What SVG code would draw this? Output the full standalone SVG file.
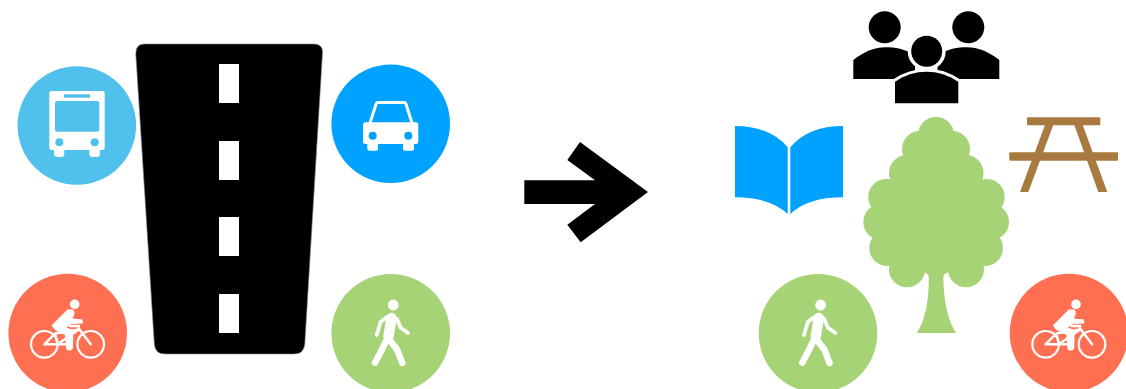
<svg xmlns="http://www.w3.org/2000/svg" xmlns:xlink="http://www.w3.org/1999/xlink" width="1126" height="389" viewBox="0 0 1126 389">
<style>
.bus{fill:#4fc1ec}.car{fill:#00a2ff}.bike{fill:#ff7052}.green{fill:#a5d376}.brown{fill:#a97a40}
.w{fill:#fff}.ln{fill:none;stroke:#fff;stroke-linecap:round;stroke-linejoin:round}
</style>
<defs>
<g id="walker-icon">
<circle class="w" cx="393.300" cy="305" r="5.400"/>
<path class="ln" stroke-width="10.500" d="M391.500 318L388.500 336"/>
<path class="ln" stroke-width="3.800" d="M387 317L380.500 322L376.700 335M397 319L400.500 327.500L408 333"/>
<path class="ln" stroke-width="6.400" d="M386.500 340L381.700 350L375 362.700M389 339L397.300 350L402.300 363"/>
</g>
<g id="bike-icon">
<circle class="w" cx="74.700" cy="304.300" r="4.800"/>
<circle class="ln" stroke-width="2.200" cx="44.300" cy="344.300" r="13.300"/>
<circle class="ln" stroke-width="2.200" cx="90.700" cy="344.300" r="13.300"/>
<path class="w" d="M67.500 309.500L73 309.500Q75 311 74.500 314L72.500 318.500L82.500 319.500L83 323.500L71 324L66.500 327.500L73.300 330L73 347Q73 350.500 69 350.500Q66 350.500 66 347L65 335L55 330L51.500 325.500Z"/>
<path class="ln" stroke-width="2.400" d="M44.300 344.300L55 333.500L57.500 344.300ZM55 333.500L79 329.500L57.500 344.300H68M78.500 328L90.700 344.300M70 326H79"/>
</g>
</defs>
<g id="connectors">
<polygon id="arrow" points="524.300,180.300 595,180.300 567.300,160 580,142 648,192 580.700,242.300 567.300,224.700 595,204 524.300,204" fill="#000"/>
</g>
<g id="road">
<path d="M144.500 44H314Q323 44 322.500 53L304.800 344Q304 354 294 354H165Q155 354 154.300 344L135.800 54Q135.500 44 144.500 44Z" fill="#000" stroke="#888" stroke-width="0.600"/>
<rect class="w" x="219" y="64" width="20" height="39"/>
<rect class="w" x="219" y="141" width="20" height="39"/>
<rect class="w" x="219" y="217" width="20" height="39"/>
<rect class="w" x="219" y="294" width="20" height="39"/>
</g>
<g id="bus">
<circle class="bus" cx="76.800" cy="125.500" r="59.300"/>
<rect class="w" x="49.300" y="91" width="55.400" height="59" rx="2"/>
<rect class="w" x="54" y="145" width="10.300" height="12" rx="3.500"/>
<rect class="w" x="89.300" y="145" width="10.700" height="12" rx="3.500"/>
<rect class="bus" x="55" y="101" width="44.300" height="30.700" rx="2.500"/>
<rect class="bus" x="64" y="94.300" width="26" height="3.400"/>
<circle class="bus" cx="59.300" cy="142.300" r="4"/>
<circle class="bus" cx="94.700" cy="142.300" r="4"/>
</g>
<g id="car">
<circle class="car" cx="390.700" cy="123.800" r="59.300"/>
<path d="M370 123L376.300 103.500Q376.700 102.600 378 102.600H404Q405.300 102.600 405.800 103.500L412 123" fill="#00a2ff" stroke="#fff" stroke-width="3" stroke-linejoin="round"/>
<rect class="w" x="363" y="122.300" width="55.300" height="21.700" rx="2.500"/>
<rect class="w" x="367.300" y="140" width="10.700" height="10.700" rx="2.500"/>
<rect class="w" x="403" y="140" width="11" height="10.700" rx="2.500"/>
<circle class="car" cx="372.700" cy="135.700" r="4"/>
<circle class="car" cx="408.300" cy="135.700" r="4"/>
</g>
<g id="bike-left">
<circle class="bike" cx="67.700" cy="333" r="59.300"/>
<use href="#bike-icon"/>
</g>
<g id="walker-left">
<circle class="green" cx="390.700" cy="333.300" r="59.300"/>
<use href="#walker-icon"/>
</g>
<g id="people">
<circle cx="884.700" cy="27.300" r="16"/>
<circle cx="968.300" cy="27.300" r="16"/>
<path d="M853.300 79V60C865 51 875 47.300 885 47.300C895 47.300 905 49 915 55V79Z"/>
<path d="M999.300 79V60C987.500 51 977.500 47.300 967.500 47.300C957.500 47.300 947.500 49 937.500 55V79Z"/>
<path d="M895 103.300V81.700C905 75 915 71.700 926.700 71.700C938 71.700 948 75 958.300 81.700V103.300Z" stroke="#fff" stroke-width="6" paint-order="stroke"/>
<circle cx="926.700" cy="51.300" r="15.500" stroke="#fff" stroke-width="7" paint-order="stroke"/>
</g>
<g id="book">
<path class="car" d="M735 126Q770 126 787.700 147.300V214Q770 197.300 735 197.300Z"/>
<path class="car" d="M843 126Q808 126 790.300 147.300V214Q808 197.300 843 197.300Z"/>
</g>
<g id="tree" class="green">
<circle cx="936" cy="135" r="18"/>
<circle cx="920" cy="149" r="18"/><circle cx="952" cy="149" r="18"/>
<circle cx="907" cy="173" r="18"/><circle cx="965.500" cy="173" r="18"/>
<circle cx="886.300" cy="197" r="18"/><circle cx="986.700" cy="197" r="18"/>
<circle cx="881.300" cy="222" r="18"/><circle cx="991" cy="222" r="18"/>
<circle cx="887.300" cy="248" r="18"/><circle cx="985" cy="248" r="18"/>
<circle cx="907" cy="269.300" r="18"/><circle cx="966" cy="269.300" r="18"/>
<path d="M925 130H948L970 160L990 200V255L970 272H902L882 255V200L902 160Z"/>
<path d="M922 268H950V272.500Q944 272 943.300 277Q944 315 956 333H916.700Q929 315 928.800 277Q928 272 922 272.500Z"/>
</g>
<g id="picnic" class="brown">
<rect x="1027" y="117.300" width="73.300" height="8" rx="1"/>
<rect x="1009.300" y="152.300" width="108.700" height="8.400" rx="1"/>
<polygon points="1045,125 1053.300,125 1028.300,192 1020,192"/>
<polygon points="1074.300,125 1082.700,125 1107.300,192 1098.300,192"/>
</g>
<g id="walker-right">
<circle class="green" cx="818" cy="333.300" r="59.300"/>
<use href="#walker-icon" transform="translate(427.300 0)"/>
</g>
<g id="bike-right">
<circle class="bike" cx="1069" cy="333" r="59.300"/>
<use href="#bike-icon" transform="translate(1001.300 0)"/>
</g>
</svg>
